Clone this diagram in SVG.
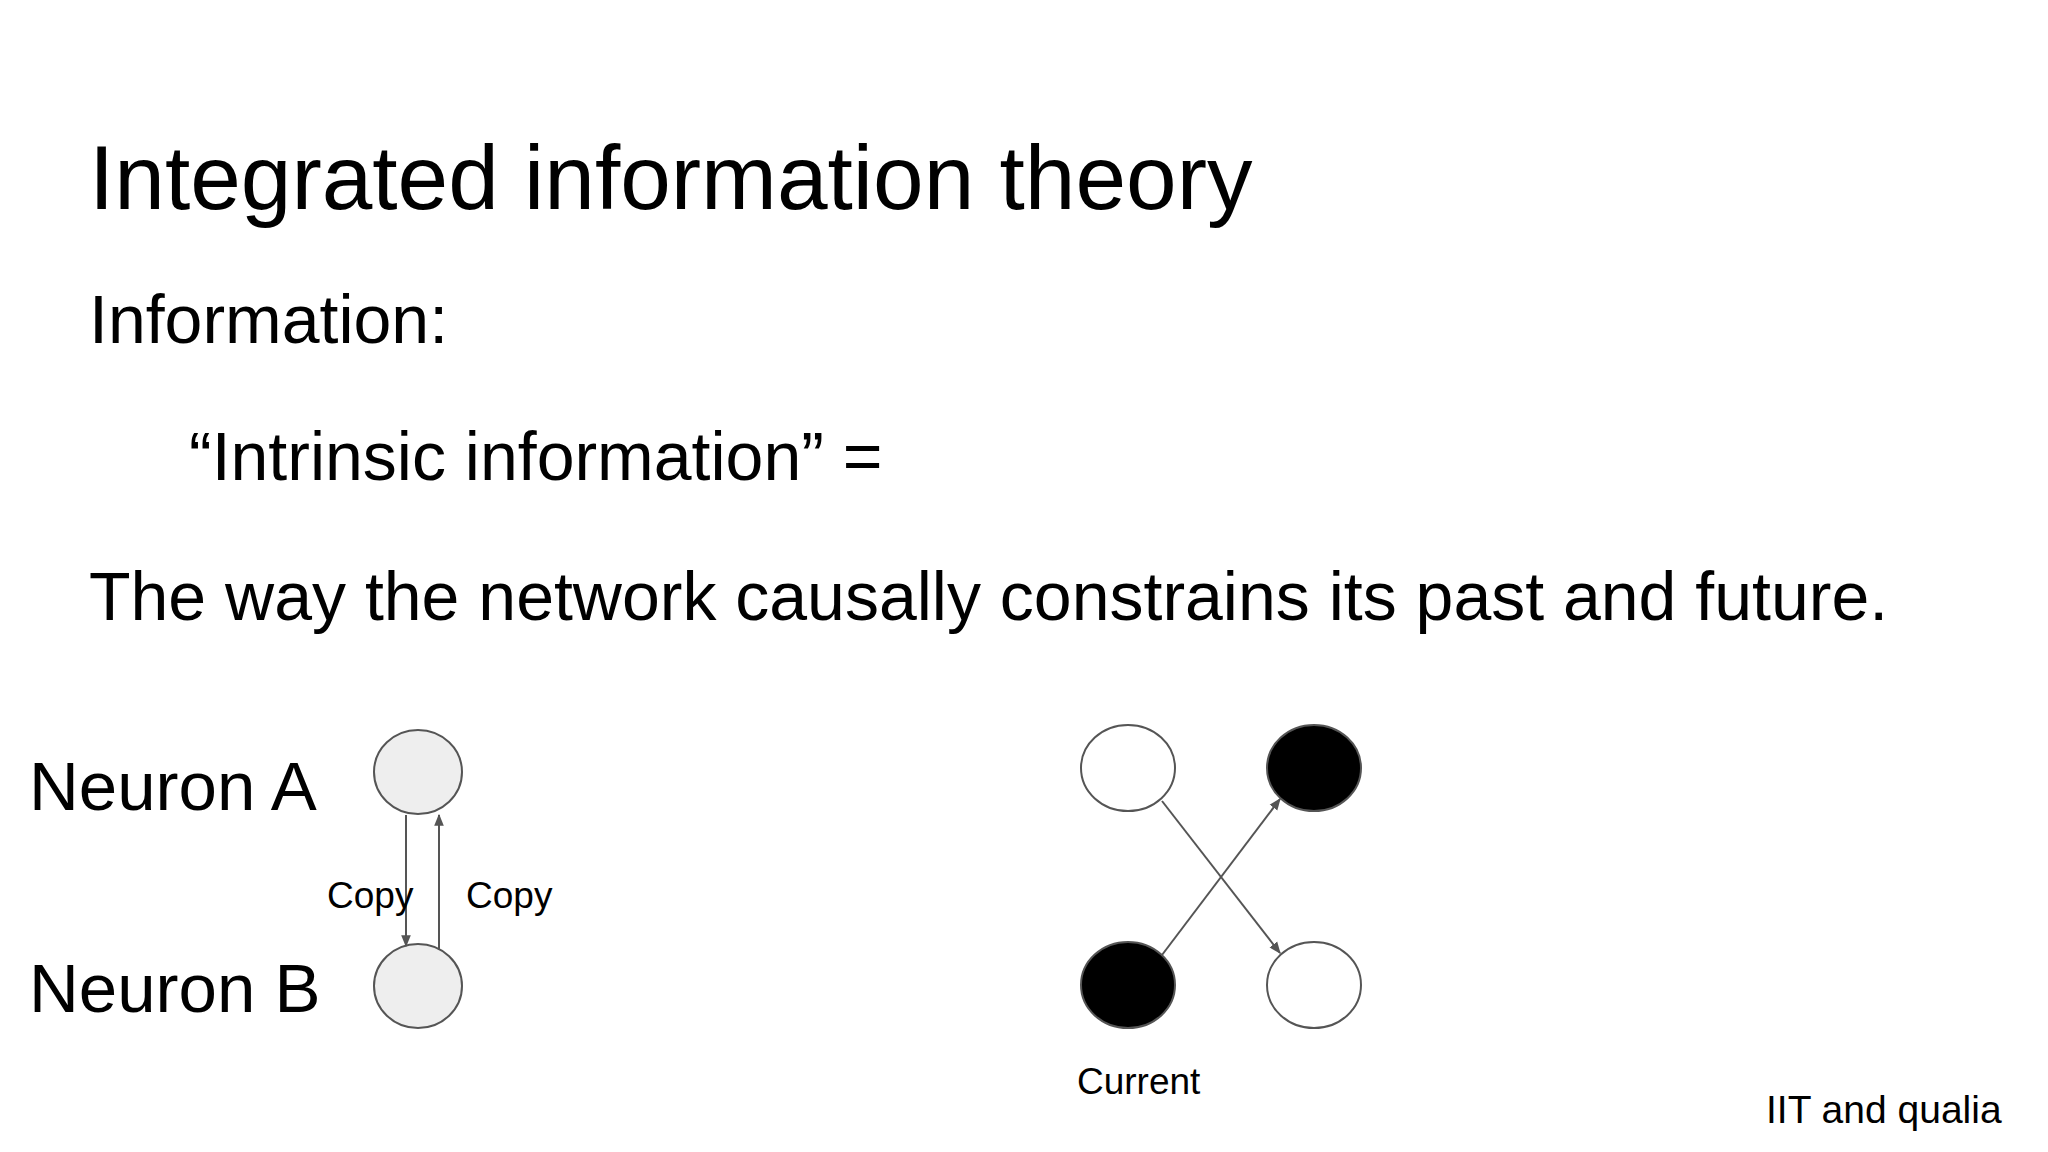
<svg xmlns="http://www.w3.org/2000/svg" width="2048" height="1152" viewBox="0 0 2048 1152">
<style>
text{font-family:"Liberation Sans",Arial,sans-serif;fill:#000}
.g{fill:#eeeeee;stroke:#555;stroke-width:2}
.w{fill:#fff;stroke:#555;stroke-width:2}
.b{fill:#000;stroke:#555;stroke-width:2}
.c{stroke:#555;stroke-width:2;fill:none;marker-end:url(#ah)}
</style>
<defs><marker id="ah" viewBox="0 0 10 10" refX="9" refY="5" markerWidth="6" markerHeight="6" orient="auto"><path d="M0,1 L10,5 L0,9 z" fill="#555"/></marker></defs>
<rect width="2048" height="1152" fill="#fff"/>
<text x="89" y="209" font-size="91">Integrated information theory</text>
<text x="89" y="343" font-size="68">Information:</text>
<text x="189" y="480" font-size="68">“Intrinsic information” =</text>
<text x="89" y="620" font-size="68">The way the network causally constrains its past and future.</text>
<text x="29" y="810" font-size="69">Neuron A</text>
<text x="29" y="1012" font-size="69">Neuron B</text>
<g id="nodeA"><ellipse class="g" cx="418" cy="772" rx="44" ry="42"/></g>
<g id="nodeB"><ellipse class="g" cx="418" cy="986" rx="44" ry="42"/></g>
<g id="n1"><ellipse class="w" cx="1128" cy="768" rx="47" ry="43"/></g>
<g id="n2"><ellipse class="b" cx="1314" cy="768" rx="47" ry="43"/></g>
<g id="n3"><ellipse class="b" cx="1128" cy="985" rx="47" ry="43"/></g>
<g id="n4"><ellipse class="w" cx="1314" cy="985" rx="47" ry="43"/></g>
<g id="connectors">
<line class="c" x1="406" y1="815" x2="406" y2="946"/>
<line class="c" x1="439" y1="950" x2="439" y2="815"/>
<line class="c" x1="1162" y1="801" x2="1280" y2="953"/>
<line class="c" x1="1162" y1="955" x2="1280" y2="799"/>
</g>
<text x="327" y="908" font-size="37">Copy</text>
<text x="466" y="908" font-size="37">Copy</text>
<text x="1077" y="1094" font-size="37">Current</text>
<text x="1766" y="1123" font-size="39">IIT and qualia</text>
</svg>
